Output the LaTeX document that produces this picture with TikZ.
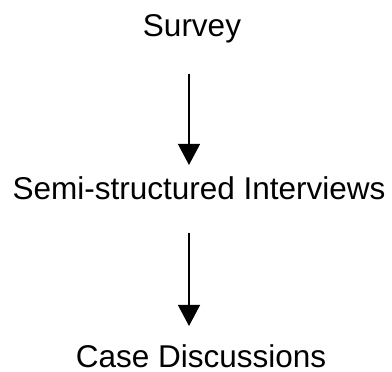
\documentclass[tikz,border=0pt]{standalone}
\usepackage{fontspec}
\setmainfont{Liberation Sans}
\usetikzlibrary{arrows.meta}

\begin{document}
\begin{tikzpicture}[
    x=1pt, y=-1pt,
    stage/.style={inner sep=0pt, anchor=base, font=\fontsize{31.5}{36}\selectfont},
    arrow/.style={-{Triangle[length=21pt, width=22pt]}, line width=1.3pt},
  ]
    \useasboundingbox (0,0) rectangle (392,372);

    \node[stage] (survey) at (192,37) {Survey};
    \node[stage] (interviews) at (199,199) {Semi-structured Interviews};
    \node[stage] (cases) at (201,367) {Case Discussions};

    % Arrows between the stages
    \draw[arrow] ([xshift=-3pt, yshift=-30pt]survey.south) -- ([xshift=-10pt, yshift=11pt]interviews.north);
    \draw[arrow] ([xshift=-10pt, yshift=-33pt]interviews.south) -- ([xshift=-12pt, yshift=18pt]cases.north);
  \end{tikzpicture}
\end{document}
